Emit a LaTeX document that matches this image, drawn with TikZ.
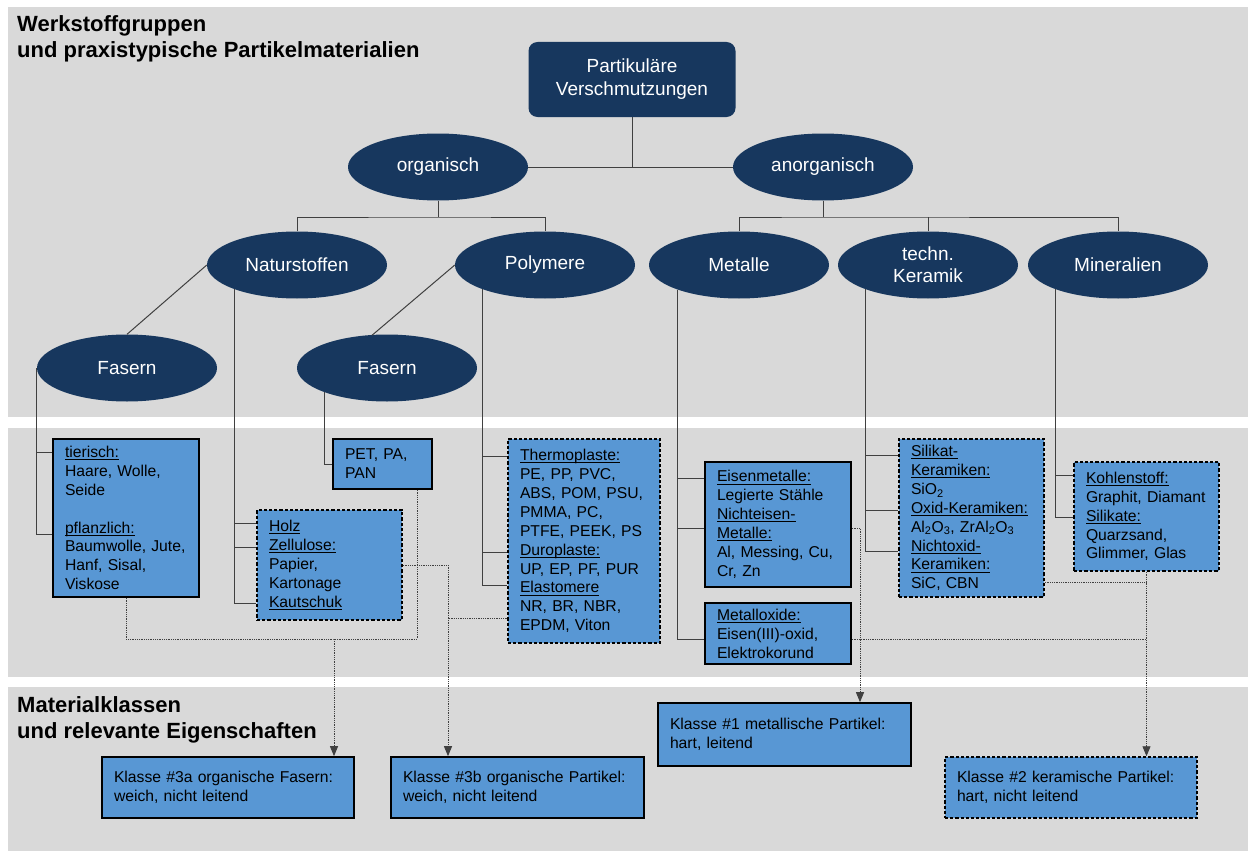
\documentclass[tikz,border=0pt]{standalone}
\usepackage{fontspec}
\setmainfont{Liberation Sans}
\usetikzlibrary{shapes.geometric,arrows.meta}
\definecolor{navy}{RGB}{23,55,94}
\definecolor{boxblue}{RGB}{88,151,212}
\definecolor{panelgray}{RGB}{217,217,217}
\definecolor{linegray}{RGB}{64,64,64}
% underline at a fixed depth below the baseline
\newcommand\ulx[1]{\leavevmode\setbox0\hbox{#1}\rlap{\rule[-2.6pt]{\wd0}{0.9pt}}\box0}
\begin{document}
\begin{tikzpicture}[x=1pt,y=-1pt,
  panel/.style={fill=panelgray,draw=none},
  ell/.style={ellipse,fill=navy,text=white,minimum width=180pt,minimum height=67pt,
    inner sep=0pt,align=center,font=\fontsize{19}{22.5}\selectfont},
  matbox/.style={rectangle,fill=boxblue,draw=black,line width=1.6pt,inner xsep=12pt,
    inner ysep=2pt,align=left,font=\fontsize{15.7}{18.9}\selectfont},
  dmatbox/.style={matbox,line width=1.5pt,dash pattern=on 3.2pt off 2pt},
  conn/.style={draw=linegray,line width=1pt},
  dotline/.style={draw=linegray,line width=0.9pt,dash pattern=on 0.9pt off 0.9pt},
  arrowtip/.style={-{Triangle[length=10pt,width=8pt]}},
  heading/.style={anchor=base west,inner sep=0pt,font=\fontsize{22}{26}\selectfont\bfseries}]
\useasboundingbox (0,0) rectangle (1248,851);

% background bands
\fill[panel] (8,7) rectangle (1248,417);
\fill[panel] (8,428) rectangle (1248,677);
\fill[panel] (8,687) rectangle (1248,851);

% band headings
\node[heading] (h1a) at (17,32) {Werkstoffgruppen};
\node[heading] (h1b) at (17,58) {und praxistypische Partikelmaterialien};
\node[heading] (h2a) at (17,712) {Materialklassen};
\node[heading] (h2b) at (17,738) {und relevante Eigenschaften};

% tree of material groups
\node[rectangle,rounded corners=9pt,fill=navy,text=white,minimum width=207pt,
  minimum height=75pt,align=center,font=\fontsize{19}{23}\selectfont]
  (root) at (632,79.5) {Partikuläre\\Verschmutzungen};
\node[ell] (org)   at (438,167) {organisch};
\node[ell] (anorg) at (823,167) {anorganisch};
\node[ell] (nat)   at (297,265) {Naturstoffen};
\node[ell] (poly)  at (545,265) {Polymere};
\node[ell] (met)   at (739,265) {Metalle};
\node[ell,font=\fontsize{19}{22}\selectfont] (ker) at (928,265) {techn.\\Keramik};
\node[ell] (min)   at (1118,265) {Mineralien};
\node[ell] (fas1)  at (127,368) {Fasern};
\node[ell] (fas2)  at (387,368) {Fasern};

% material boxes
\node[matbox,text width=122pt,minimum height=158pt] (tier) at (126,518)
  {\ulx{tierisch:}\\Haare, Wolle,\\Seide\\\mbox{}\\\ulx{pflanzlich:}\\Baumwolle, Jute,\\Hanf, Sisal,\\Viskose};
\node[matbox,text width=75pt,minimum height=50pt] (pet) at (382.5,464)
  {PET, PA,\\PAN};
\node[dmatbox,text width=121pt,minimum height=110pt] (holz) at (329.5,565)
  {\ulx{Holz}\\\ulx{Zellulose:}\\Papier,\\Kartonage\\\ulx{Kautschuk}};
\node[dmatbox,text width=128pt,minimum height=204pt] (thermo) at (584,541)
  {\ulx{Thermoplaste:}\\PE, PP, PVC,\\ABS, POM, PSU,\\PMMA, PC,\\PTFE, PEEK, PS\\
   \ulx{Duroplaste:}\\UP, EP, PF, PUR\\\ulx{Elastomere}\\NR, BR, NBR,\\EPDM, Viton};
\node[matbox,text width=122pt,minimum height=125pt] (eisen) at (778,524.5)
  {\ulx{Eisenmetalle:}\\Legierte Stähle\\\ulx{Nichteisen-}\\\ulx{Metalle:}\\Al, Messing, Cu,\\Cr, Zn};
\node[matbox,text width=122pt,minimum height=61pt] (mox) at (778,633.5)
  {\ulx{Metalloxide:}\\Eisen(III)-oxid,\\Elektrokorund};
\node[dmatbox,text width=121pt,minimum height=158pt] (silikat) at (971.5,518)
  {\ulx{Silikat-}\\\ulx{Keramiken:}\\SiO\textsubscript{2}\\\ulx{Oxid-Keramiken:}\\
   Al\textsubscript{2}O\textsubscript{3}, ZrAl\textsubscript{2}O\textsubscript{3}\\
   \ulx{Nichtoxid-}\\\ulx{Keramiken:}\\SiC, CBN};
\node[dmatbox,text width=121pt,minimum height=109pt] (kohle) at (1146.5,516.5)
  {\ulx{Kohlenstoff:}\\Graphit, Diamant\\\ulx{Silikate:}\\Quarzsand,\\Glimmer, Glas};

% material classes
\node[matbox,text width=228pt,minimum height=61pt] (c3a) at (228,787.5)
  {Klasse \#3a organische Fasern:\\weich, nicht leitend};
\node[matbox,text width=229pt,minimum height=61pt] (c3b) at (517.5,787.5)
  {Klasse \#3b organische Partikel:\\weich, nicht leitend};
\node[matbox,text width=229pt,minimum height=63pt] (c1) at (784.5,734.5)
  {Klasse \#1 metallische Partikel:\\hart, leitend};
\node[dmatbox,text width=228pt,minimum height=61pt] (c2) at (1071,787.5)
  {Klasse \#2 keramische Partikel:\\hart, nicht leitend};

% tree connectors
\draw[conn] (org.east) -- (anorg.west);
\draw[conn] (root.south) -- (root.south |- org.east);
\coordinate (ob) at (438,217);
\coordinate (ab) at (823,217);
\draw[conn] (org.south) -- (ob);
\draw[conn] (nat.north) |- (ob) -| (poly.north);
\draw[conn] (anorg.south) -- (ab);
\draw[conn] (met.north) |- (ab) -| (min.north);
\draw[conn] (ker.north) -- (ker.north |- ab);
\draw[conn] (nat.west) -- (fas1.north);
\draw[conn] (poly.west) -- ([xshift=-15pt,yshift=-1pt]fas2.north);

% connectors from groups to material boxes
\draw[conn] (fas1.west) |- (tier.west |- 0,534);
\draw[conn] (fas1.west |- 0,452) -- (tier.west |- 0,452);
\draw[conn] (fas2.201) |- (pet.west);
\draw[conn] (nat.201) |- (holz.west |- 0,603);
\draw[conn] (nat.201 |- 0,523) -- (holz.west |- 0,523);
\draw[conn] (nat.201 |- 0,547) -- (holz.west |- 0,547);
\draw[conn] (poly.201) |- (thermo.west |- 0,585);
\draw[conn] (poly.201 |- 0,456) -- (thermo.west |- 0,456);
\draw[conn] (poly.201 |- 0,552) -- (thermo.west |- 0,552);
\draw[conn] (met.202) |- (mox.west |- 0,639);
\draw[conn] (met.202 |- 0,478) -- (eisen.west |- 0,478);
\draw[conn] (met.202 |- 0,528) -- (eisen.west |- 0,528);
\draw[conn] (ker.201) |- (silikat.west |- 0,551);
\draw[conn] (ker.201 |- 0,455) -- (silikat.west |- 0,455);
\draw[conn] (ker.201 |- 0,510) -- (silikat.west |- 0,510);
\draw[conn] (min.201) |- (kohle.west |- 0,517);
\draw[conn] (min.201 |- 0,475) -- (kohle.west |- 0,475);

% dotted links to the material classes
\coordinate (j1) at (334,639);
\coordinate (petd) at ([xshift=34.5pt]pet.south);
\draw[dotline] (tier.south) |- (j1) -| (petd);
\draw[dotline,arrowtip] (j1) -- (j1 |- c3a.north);
\coordinate (j2) at (448,618);
\draw[dotline] (holz.east) -| (j2);
\draw[dotline] (thermo.west |- j2) -- (j2);
\draw[dotline,arrowtip] (j2) -- (j2 |- c3b.north);
\coordinate (j3) at (860,528);
\draw[dotline,arrowtip] (eisen.east |- j3) -- (j3) -- (j3 |- c1.north);
\draw[dotline] (mox.east |- 0,639) -- (kohle.south |- 0,639);
\draw[dotline] (silikat.east |- 0,582) -- (kohle.south |- 0,582);
\draw[dotline,arrowtip] (kohle.south) -- (kohle.south |- c2.north);
\end{tikzpicture}
\end{document}
